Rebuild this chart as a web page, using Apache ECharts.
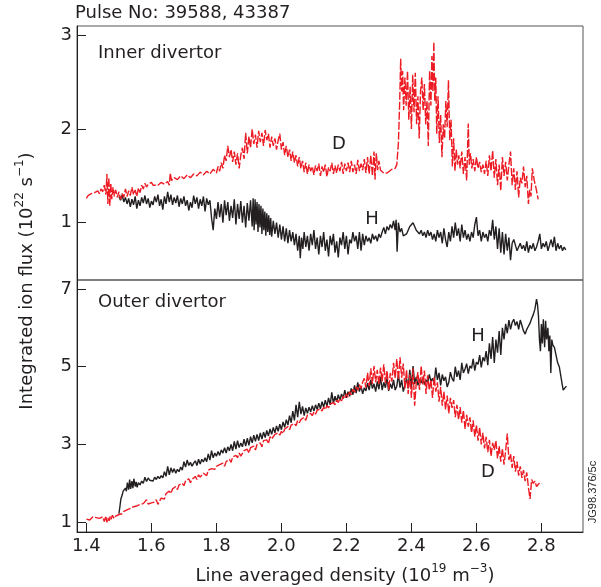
<!DOCTYPE html>
<html>
<head>
<meta charset="utf-8">
<script src="https://cdn.jsdelivr.net/npm/echarts@6/dist/echarts.min.js"></script>
<style>
html,body{margin:0;padding:0;background:#fff;}
#chart{width:601px;height:587px;}
</style>
</head>
<body>
<div id="chart"></div>
<script>
// ---- data (x = line averaged density, y = integrated ion flux) ----
var xTicks = [1.4, 1.6, 1.8, 2.0, 2.2, 2.4, 2.6, 2.8];
var yTicksInner = [1, 2, 3];
var yTicksOuter = [1, 3, 5, 7];

var innerD = [[1.400,1.26],[1.405,1.29],[1.410,1.27],[1.415,1.31],[1.420,1.29],[1.425,1.32],[1.430,1.30],[1.435,1.34],[1.440,1.31],[1.445,1.36],[1.450,1.33],[1.455,1.40],[1.460,1.30],[1.463,1.52],[1.466,1.20],[1.469,1.48],[1.472,1.18],[1.475,1.42],[1.478,1.25],[1.482,1.38],[1.486,1.28],[1.490,1.35],[1.495,1.27],[1.500,1.33],[1.505,1.25],[1.510,1.31],[1.515,1.27],[1.520,1.36],[1.525,1.28],[1.530,1.34],[1.535,1.29],[1.540,1.38],[1.545,1.30],[1.550,1.35],[1.555,1.28],[1.560,1.37],[1.565,1.32],[1.570,1.40],[1.575,1.36],[1.580,1.42],[1.585,1.38],[1.590,1.41],[1.595,1.39],[1.600,1.43],[1.605,1.40],[1.610,1.42],[1.620,1.40],[1.630,1.43],[1.640,1.41],[1.650,1.44],[1.655,1.40],[1.658,1.53],[1.662,1.45],[1.670,1.48],[1.680,1.46],[1.690,1.50],[1.700,1.47],[1.710,1.51],[1.720,1.48],[1.730,1.52],[1.740,1.50],[1.750,1.54],[1.760,1.51],[1.770,1.55],[1.780,1.52],[1.790,1.57],[1.800,1.53],[1.805,1.60],[1.810,1.55],[1.815,1.64],[1.820,1.58],[1.825,1.72],[1.830,1.66],[1.835,1.82],[1.840,1.70],[1.845,1.78],[1.850,1.65],[1.855,1.76],[1.860,1.62],[1.865,1.74],[1.870,1.58],[1.875,1.72],[1.880,1.80],[1.885,1.68],[1.890,1.96],[1.895,1.74],[1.900,1.92],[1.905,1.80],[1.910,2.00],[1.915,1.84],[1.920,1.94],[1.925,1.80],[1.930,1.98],[1.935,1.86],[1.940,1.96],[1.945,1.82],[1.950,1.99],[1.955,1.88],[1.960,1.95],[1.965,1.80],[1.970,1.92],[1.975,1.82],[1.980,1.90],[1.985,1.78],[1.990,1.88],[1.995,1.95],[2.000,1.78],[2.005,1.86],[2.010,1.72],[2.015,1.82],[2.020,1.70],[2.025,1.78],[2.030,1.66],[2.035,1.76],[2.040,1.64],[2.045,1.72],[2.050,1.60],[2.055,1.70],[2.060,1.58],[2.065,1.66],[2.070,1.54],[2.075,1.64],[2.080,1.52],[2.085,1.62],[2.090,1.55],[2.095,1.60],[2.100,1.51],[2.105,1.61],[2.110,1.55],[2.115,1.63],[2.120,1.50],[2.125,1.60],[2.130,1.54],[2.135,1.62],[2.140,1.49],[2.145,1.59],[2.150,1.55],[2.155,1.64],[2.160,1.52],[2.165,1.61],[2.170,1.53],[2.175,1.62],[2.180,1.55],[2.185,1.65],[2.190,1.52],[2.195,1.63],[2.200,1.55],[2.205,1.64],[2.210,1.54],[2.215,1.66],[2.220,1.54],[2.225,1.62],[2.230,1.52],[2.235,1.67],[2.240,1.55],[2.245,1.63],[2.250,1.56],[2.255,1.68],[2.260,1.53],[2.265,1.70],[2.270,1.52],[2.275,1.72],[2.280,1.50],[2.285,1.76],[2.288,1.46],[2.292,1.74],[2.296,1.56],[2.300,1.66],[2.305,1.56],[2.310,1.54],[2.315,1.53],[2.320,1.52],[2.325,1.53],[2.330,1.55],[2.340,1.57],[2.350,1.58],[2.355,1.62],[2.360,1.85],[2.364,2.30],[2.367,2.75],[2.370,2.40],[2.373,2.62],[2.376,2.20],[2.380,2.55],[2.384,2.25],[2.388,2.62],[2.392,2.10],[2.396,2.45],[2.400,2.00],[2.404,2.58],[2.408,2.18],[2.412,2.60],[2.416,2.05],[2.420,2.35],[2.424,1.90],[2.428,2.40],[2.432,2.55],[2.436,2.20],[2.440,2.48],[2.444,2.05],[2.448,2.30],[2.452,1.82],[2.456,2.62],[2.460,2.25],[2.463,2.78],[2.466,2.40],[2.469,2.93],[2.472,2.30],[2.475,2.55],[2.478,1.95],[2.482,2.35],[2.486,1.85],[2.490,2.15],[2.494,1.70],[2.498,2.05],[2.502,1.90],[2.506,2.30],[2.510,2.02],[2.514,2.52],[2.518,1.88],[2.522,2.10],[2.526,1.60],[2.530,1.90],[2.534,1.55],[2.538,1.78],[2.542,1.62],[2.546,1.72],[2.550,1.58],[2.555,1.76],[2.560,1.52],[2.565,1.70],[2.570,1.45],[2.575,2.06],[2.578,1.62],[2.582,1.74],[2.586,1.58],[2.590,1.68],[2.595,1.55],[2.600,1.70],[2.605,1.58],[2.610,1.65],[2.615,1.54],[2.620,1.62],[2.625,1.52],[2.630,1.66],[2.635,1.50],[2.640,1.72],[2.645,1.55],[2.650,1.77],[2.655,1.48],[2.660,1.68],[2.665,1.40],[2.670,1.62],[2.675,1.34],[2.680,1.70],[2.685,1.50],[2.690,1.65],[2.695,1.45],[2.700,1.62],[2.705,1.76],[2.710,1.40],[2.715,1.58],[2.720,1.35],[2.725,1.55],[2.730,1.27],[2.735,1.48],[2.740,1.42],[2.745,1.60],[2.750,1.38],[2.755,1.50],[2.760,1.20],[2.764,1.35],[2.768,1.28],[2.772,1.58],[2.778,1.45],[2.784,1.36],[2.790,1.25]];

var innerH = [[1.500,1.28],[1.505,1.24],[1.510,1.30],[1.515,1.22],[1.520,1.27],[1.525,1.20],[1.530,1.26],[1.535,1.17],[1.540,1.25],[1.545,1.19],[1.550,1.28],[1.555,1.15],[1.560,1.24],[1.565,1.18],[1.570,1.27],[1.575,1.21],[1.580,1.29],[1.585,1.20],[1.590,1.26],[1.595,1.16],[1.600,1.23],[1.605,1.19],[1.610,1.28],[1.615,1.22],[1.620,1.30],[1.625,1.18],[1.630,1.25],[1.635,1.14],[1.640,1.28],[1.645,1.20],[1.650,1.33],[1.655,1.22],[1.660,1.30],[1.665,1.19],[1.670,1.27],[1.675,1.21],[1.680,1.29],[1.685,1.17],[1.690,1.26],[1.695,1.20],[1.700,1.28],[1.705,1.18],[1.710,1.24],[1.715,1.13],[1.720,1.22],[1.725,1.16],[1.730,1.29],[1.735,1.20],[1.740,1.27],[1.745,1.15],[1.750,1.25],[1.755,1.18],[1.760,1.28],[1.765,1.12],[1.770,1.26],[1.775,1.19],[1.780,1.24],[1.785,1.05],[1.790,0.92],[1.795,1.15],[1.800,1.04],[1.805,1.22],[1.810,1.06],[1.815,1.20],[1.820,1.00],[1.825,1.24],[1.830,1.08],[1.835,1.22],[1.840,1.02],[1.845,1.18],[1.850,1.05],[1.855,1.25],[1.860,0.98],[1.865,1.20],[1.870,1.04],[1.875,1.23],[1.880,1.00],[1.885,1.18],[1.890,0.95],[1.895,1.21],[1.900,1.02],[1.905,1.24],[1.910,0.96],[1.913,1.26],[1.916,0.92],[1.919,1.25],[1.922,0.98],[1.925,1.22],[1.928,0.90],[1.931,1.20],[1.934,0.95],[1.937,1.18],[1.940,0.88],[1.943,1.15],[1.946,0.92],[1.949,1.12],[1.952,0.86],[1.955,1.10],[1.958,0.90],[1.961,1.08],[1.964,0.87],[1.967,1.05],[1.970,0.85],[1.975,1.02],[1.980,0.88],[1.985,1.00],[1.990,0.84],[1.995,0.98],[2.000,0.82],[2.005,0.96],[2.010,0.80],[2.015,0.94],[2.020,0.78],[2.025,0.92],[2.030,0.80],[2.035,0.90],[2.040,0.76],[2.045,0.88],[2.050,0.70],[2.055,0.86],[2.058,0.62],[2.062,0.84],[2.066,0.72],[2.070,0.90],[2.075,0.74],[2.080,0.86],[2.085,0.70],[2.090,0.88],[2.095,0.76],[2.100,0.92],[2.105,0.72],[2.110,0.84],[2.115,0.66],[2.120,0.86],[2.125,0.74],[2.130,0.90],[2.135,0.70],[2.140,0.82],[2.145,0.64],[2.150,0.86],[2.155,0.76],[2.160,0.88],[2.165,0.68],[2.170,0.80],[2.175,0.63],[2.180,0.84],[2.185,0.76],[2.190,0.90],[2.195,0.72],[2.200,0.86],[2.205,0.66],[2.210,0.82],[2.215,0.78],[2.220,0.90],[2.225,0.80],[2.230,0.86],[2.235,0.72],[2.240,0.90],[2.245,0.70],[2.250,0.88],[2.255,0.76],[2.260,0.86],[2.265,0.80],[2.270,0.84],[2.275,0.78],[2.280,0.88],[2.285,0.82],[2.290,0.86],[2.295,0.80],[2.300,0.88],[2.305,0.84],[2.310,0.90],[2.315,0.95],[2.320,0.88],[2.325,0.96],[2.330,0.92],[2.335,0.98],[2.340,0.94],[2.345,1.02],[2.350,0.92],[2.353,1.03],[2.356,0.69],[2.360,1.00],[2.365,0.90],[2.370,0.94],[2.375,0.86],[2.380,0.84],[2.385,0.88],[2.390,0.92],[2.395,0.96],[2.400,0.98],[2.405,1.00],[2.410,0.96],[2.415,0.92],[2.420,0.94],[2.425,0.88],[2.430,0.92],[2.435,0.86],[2.440,0.90],[2.445,0.84],[2.450,0.92],[2.455,0.86],[2.460,0.90],[2.465,0.82],[2.470,0.88],[2.475,0.80],[2.480,0.92],[2.485,0.84],[2.490,0.90],[2.495,0.78],[2.500,0.94],[2.505,0.82],[2.510,0.74],[2.515,0.90],[2.520,0.80],[2.525,0.96],[2.530,0.84],[2.535,1.00],[2.540,0.86],[2.545,0.94],[2.550,0.80],[2.555,0.98],[2.560,0.84],[2.565,0.92],[2.570,0.82],[2.575,0.88],[2.580,0.80],[2.585,0.90],[2.590,0.84],[2.595,0.98],[2.600,1.06],[2.605,0.86],[2.610,0.92],[2.615,0.80],[2.620,0.90],[2.625,0.84],[2.630,0.88],[2.635,0.80],[2.640,0.92],[2.645,0.86],[2.650,1.03],[2.655,0.82],[2.660,0.96],[2.665,0.72],[2.670,0.94],[2.675,0.68],[2.680,0.90],[2.685,0.66],[2.690,0.88],[2.695,0.70],[2.700,0.84],[2.705,0.60],[2.710,0.78],[2.715,0.82],[2.720,0.76],[2.725,0.70],[2.730,0.72],[2.735,0.78],[2.740,0.72],[2.745,0.76],[2.750,0.70],[2.755,0.80],[2.760,0.68],[2.765,0.76],[2.770,0.72],[2.775,0.78],[2.780,0.70],[2.785,0.74],[2.790,0.80],[2.795,0.88],[2.800,0.72],[2.805,0.78],[2.810,0.74],[2.815,0.80],[2.820,0.70],[2.825,0.76],[2.830,0.82],[2.835,0.74],[2.840,0.85],[2.845,0.70],[2.850,0.78],[2.855,0.72],[2.860,0.76],[2.865,0.70],[2.870,0.74],[2.875,0.71]];

var outerD = [[1.400,1.08],[1.405,1.12],[1.410,1.06],[1.415,1.10],[1.420,1.14],[1.425,1.09],[1.430,1.12],[1.435,1.16],[1.440,1.10],[1.445,1.05],[1.450,1.14],[1.455,1.02],[1.460,1.16],[1.463,1.00],[1.466,1.12],[1.470,1.04],[1.473,1.15],[1.476,1.08],[1.480,1.18],[1.485,1.10],[1.490,1.16],[1.495,1.12],[1.500,1.20],[1.505,1.24],[1.510,1.22],[1.515,1.28],[1.520,1.26],[1.525,1.32],[1.530,1.30],[1.535,1.36],[1.540,1.33],[1.545,1.40],[1.550,1.36],[1.555,1.42],[1.560,1.40],[1.565,1.46],[1.570,1.42],[1.575,1.48],[1.580,1.45],[1.585,1.58],[1.590,1.47],[1.595,1.52],[1.600,1.50],[1.605,1.55],[1.610,1.52],[1.615,1.58],[1.620,1.46],[1.625,1.50],[1.630,1.62],[1.635,1.66],[1.640,1.60],[1.645,1.74],[1.650,1.72],[1.655,1.80],[1.660,1.74],[1.665,1.86],[1.670,1.88],[1.675,1.92],[1.680,1.84],[1.685,1.96],[1.690,1.98],[1.695,2.00],[1.700,1.94],[1.705,2.06],[1.710,2.04],[1.715,2.12],[1.720,2.02],[1.725,2.10],[1.730,2.14],[1.735,2.18],[1.740,2.10],[1.745,2.22],[1.750,2.16],[1.755,2.20],[1.760,2.26],[1.765,2.28],[1.770,2.20],[1.775,2.34],[1.780,2.30],[1.785,2.38],[1.790,2.34],[1.795,2.36],[1.800,2.44],[1.805,2.40],[1.810,2.48],[1.815,2.46],[1.820,2.52],[1.825,2.44],[1.830,2.56],[1.835,2.58],[1.840,2.62],[1.845,2.54],[1.850,2.68],[1.855,2.64],[1.860,2.72],[1.865,2.66],[1.870,2.78],[1.875,2.70],[1.880,2.74],[1.885,2.84],[1.890,2.80],[1.895,2.88],[1.900,2.78],[1.905,2.92],[1.910,2.90],[1.915,2.96],[1.920,2.86],[1.925,3.00],[1.930,2.98],[1.935,3.04],[1.940,2.94],[1.945,3.10],[1.950,3.06],[1.955,3.12],[1.960,3.02],[1.965,3.20],[1.970,3.14],[1.975,3.18],[1.980,3.26],[1.985,3.22],[1.990,3.30],[1.995,3.24],[2.000,3.34],[2.005,3.28],[2.010,3.40],[2.015,3.36],[2.020,3.46],[2.025,3.38],[2.030,3.50],[2.035,3.46],[2.040,3.54],[2.045,3.48],[2.050,3.62],[2.055,3.56],[2.060,3.64],[2.065,3.60],[2.070,3.70],[2.075,3.62],[2.080,3.76],[2.085,3.72],[2.090,3.80],[2.095,3.74],[2.100,3.84],[2.105,3.78],[2.110,3.88],[2.115,3.84],[2.120,3.92],[2.125,3.86],[2.130,3.96],[2.135,3.90],[2.140,4.00],[2.145,3.94],[2.150,4.04],[2.155,4.00],[2.160,4.08],[2.165,4.02],[2.170,4.14],[2.175,4.08],[2.180,4.18],[2.185,4.12],[2.190,4.24],[2.195,4.18],[2.200,4.30],[2.205,4.22],[2.210,4.36],[2.215,4.28],[2.220,4.42],[2.225,4.34],[2.230,4.48],[2.235,4.40],[2.240,4.54],[2.245,4.44],[2.250,4.60],[2.255,4.70],[2.260,4.46],[2.265,4.84],[2.270,4.50],[2.275,4.96],[2.280,4.56],[2.285,5.02],[2.290,4.60],[2.295,4.92],[2.300,4.54],[2.305,4.98],[2.310,4.62],[2.315,5.06],[2.320,4.58],[2.325,4.90],[2.330,4.40],[2.335,4.84],[2.340,4.62],[2.345,5.10],[2.350,4.70],[2.355,5.20],[2.360,4.66],[2.365,5.24],[2.370,4.72],[2.375,5.08],[2.380,4.44],[2.385,4.92],[2.390,4.30],[2.395,4.80],[2.400,4.20],[2.405,4.96],[2.410,4.00],[2.415,4.60],[2.420,4.86],[2.425,4.40],[2.430,5.02],[2.435,4.54],[2.440,4.90],[2.445,4.30],[2.450,4.78],[2.455,4.40],[2.460,4.66],[2.465,4.20],[2.470,4.74],[2.475,4.36],[2.480,4.60],[2.485,4.10],[2.490,4.48],[2.495,4.00],[2.500,4.36],[2.505,3.90],[2.510,4.26],[2.515,3.80],[2.520,4.20],[2.525,3.94],[2.530,4.14],[2.535,3.70],[2.540,4.02],[2.545,3.64],[2.550,3.96],[2.555,3.56],[2.560,3.88],[2.565,3.40],[2.570,3.76],[2.575,3.46],[2.580,3.70],[2.585,3.30],[2.590,3.62],[2.595,3.20],[2.600,3.50],[2.605,3.10],[2.610,3.44],[2.615,3.00],[2.620,3.30],[2.625,2.90],[2.630,3.20],[2.635,2.80],[2.640,3.12],[2.645,2.70],[2.650,3.04],[2.655,2.86],[2.660,3.10],[2.665,2.64],[2.670,2.96],[2.675,2.56],[2.680,2.90],[2.685,2.48],[2.690,2.84],[2.695,3.28],[2.700,2.60],[2.705,2.76],[2.710,2.40],[2.715,2.70],[2.720,2.30],[2.725,2.56],[2.730,2.20],[2.735,2.44],[2.740,2.14],[2.745,2.34],[2.750,2.06],[2.755,2.28],[2.760,1.90],[2.765,1.60],[2.770,2.10],[2.775,2.00],[2.780,2.06],[2.785,1.92],[2.790,1.96],[2.795,2.02],[2.800,2.00]];

var outerH = [[1.500,1.22],[1.503,1.40],[1.506,1.60],[1.510,1.70],[1.513,1.80],[1.516,1.76],[1.520,1.88],[1.523,1.80],[1.526,2.02],[1.530,1.84],[1.533,2.10],[1.536,1.86],[1.540,2.06],[1.543,1.88],[1.546,2.12],[1.550,1.92],[1.553,2.04],[1.556,1.90],[1.560,2.02],[1.565,1.96],[1.570,2.06],[1.575,2.00],[1.580,2.16],[1.585,2.05],[1.590,2.14],[1.595,2.08],[1.600,2.12],[1.605,2.06],[1.610,2.16],[1.615,2.10],[1.620,2.18],[1.625,2.12],[1.630,2.20],[1.635,2.14],[1.640,2.30],[1.645,2.18],[1.650,2.44],[1.655,2.22],[1.660,2.40],[1.665,2.28],[1.670,2.38],[1.675,2.26],[1.680,2.36],[1.685,2.30],[1.690,2.42],[1.695,2.34],[1.700,2.56],[1.705,2.42],[1.710,2.60],[1.715,2.46],[1.720,2.54],[1.725,2.44],[1.730,2.52],[1.735,2.58],[1.740,2.46],[1.745,2.62],[1.750,2.50],[1.755,2.62],[1.760,2.55],[1.765,2.66],[1.770,2.56],[1.775,2.76],[1.780,2.60],[1.785,2.84],[1.790,2.66],[1.795,2.78],[1.800,2.70],[1.805,2.82],[1.810,2.72],[1.815,2.86],[1.820,2.78],[1.825,2.92],[1.830,2.78],[1.835,2.94],[1.840,2.84],[1.845,3.00],[1.850,2.84],[1.855,3.08],[1.860,2.88],[1.865,3.10],[1.870,2.92],[1.875,3.04],[1.880,2.94],[1.885,3.14],[1.890,2.96],[1.895,3.16],[1.900,2.98],[1.905,3.20],[1.910,3.04],[1.915,3.24],[1.920,3.08],[1.925,3.26],[1.930,3.10],[1.935,3.30],[1.940,3.14],[1.945,3.32],[1.950,3.18],[1.955,3.36],[1.960,3.22],[1.965,3.40],[1.970,3.26],[1.975,3.44],[1.980,3.30],[1.985,3.48],[1.990,3.34],[1.995,3.52],[2.000,3.38],[2.005,3.58],[2.010,3.44],[2.015,3.64],[2.020,3.50],[2.025,3.74],[2.030,3.56],[2.035,3.86],[2.040,3.62],[2.045,4.02],[2.050,3.70],[2.055,4.10],[2.060,3.78],[2.065,3.98],[2.070,3.74],[2.075,3.94],[2.080,3.80],[2.085,3.96],[2.090,3.84],[2.095,4.00],[2.100,3.86],[2.105,4.02],[2.110,3.90],[2.115,4.06],[2.120,3.92],[2.125,4.10],[2.130,3.96],[2.135,4.14],[2.140,3.98],[2.145,4.20],[2.150,4.02],[2.155,4.34],[2.160,4.06],[2.165,4.24],[2.170,4.10],[2.175,4.28],[2.180,4.14],[2.185,4.30],[2.190,4.18],[2.195,4.40],[2.200,4.20],[2.205,4.36],[2.210,4.24],[2.215,4.44],[2.220,4.28],[2.225,4.52],[2.230,4.32],[2.235,4.60],[2.240,4.36],[2.245,4.50],[2.250,4.30],[2.255,4.46],[2.260,4.38],[2.265,4.58],[2.270,4.40],[2.275,4.66],[2.280,4.44],[2.285,4.56],[2.290,4.36],[2.295,4.62],[2.300,4.42],[2.305,4.74],[2.310,4.40],[2.315,4.60],[2.320,4.46],[2.325,4.70],[2.330,4.38],[2.335,4.56],[2.340,4.44],[2.345,4.66],[2.350,4.40],[2.355,4.50],[2.360,4.80],[2.365,4.46],[2.370,4.66],[2.375,4.36],[2.380,4.52],[2.385,4.70],[2.390,4.44],[2.395,4.92],[2.400,4.48],[2.405,5.02],[2.410,4.56],[2.415,4.74],[2.420,4.52],[2.425,4.68],[2.430,4.58],[2.435,4.72],[2.440,4.54],[2.445,4.66],[2.450,4.60],[2.455,4.80],[2.460,4.62],[2.465,4.70],[2.470,4.56],[2.475,4.98],[2.480,4.66],[2.485,4.84],[2.490,4.52],[2.495,4.80],[2.500,4.64],[2.505,4.74],[2.510,4.48],[2.515,4.60],[2.520,4.86],[2.525,4.70],[2.530,4.62],[2.535,5.00],[2.540,4.74],[2.545,4.90],[2.550,4.66],[2.555,5.10],[2.560,4.84],[2.565,4.94],[2.570,5.08],[2.575,4.82],[2.580,5.02],[2.585,4.96],[2.590,5.20],[2.595,4.90],[2.600,5.12],[2.605,5.06],[2.610,5.30],[2.615,4.98],[2.620,5.24],[2.625,5.14],[2.630,5.40],[2.635,5.04],[2.640,5.60],[2.645,5.20],[2.650,5.76],[2.655,5.10],[2.660,5.70],[2.665,5.36],[2.670,5.92],[2.675,5.30],[2.680,6.00],[2.685,5.70],[2.690,6.10],[2.695,5.86],[2.700,6.20],[2.705,5.96],[2.710,6.14],[2.715,6.22],[2.720,6.06],[2.725,6.16],[2.730,5.96],[2.735,6.20],[2.740,6.06],[2.745,5.92],[2.750,5.84],[2.755,5.96],[2.760,6.04],[2.765,6.12],[2.770,6.24],[2.775,6.34],[2.780,6.48],[2.785,6.74],[2.788,6.60],[2.791,6.30],[2.794,5.70],[2.797,5.40],[2.800,6.10],[2.803,5.60],[2.806,6.22],[2.810,5.50],[2.813,6.18],[2.816,5.70],[2.820,6.00],[2.823,5.40],[2.826,5.80],[2.829,4.84],[2.832,5.70],[2.835,5.56],[2.840,5.50],[2.845,5.30],[2.850,5.10],[2.855,5.00],[2.860,4.96],[2.863,4.60],[2.867,4.40],[2.872,4.44],[2.877,4.50]];

// ---- chart ----
var FONT = '"DejaVu Sans", "Liberation Sans", Arial, sans-serif';
var SMALLFONT = '"Liberation Sans", Arial, sans-serif';
var INK = '#231f20';
var RED = '#ed1c24';
var FS = 18;

var chart = echarts.init(document.getElementById('chart'), null, {renderer: 'canvas'});

function xAxisCfg(grid, showLabels) {
  return {
    type: 'value', gridIndex: grid, min: 1.371, max: 2.928,
    axisLine: {show: showLabels, onZero: false, lineStyle: {color: INK, width: 1}},
    axisTick: {show: showLabels, inside: true, length: 9, customValues: xTicks, lineStyle: {color: INK}},
    axisLabel: {show: showLabels, customValues: xTicks, margin: 5, fontSize: FS, fontFamily: FONT, color: INK,
                formatter: function (v) { return v.toFixed(1); }},
    splitLine: {show: false}
  };
}
function yAxisCfg(grid, min, max, ticks) {
  return {
    type: 'value', gridIndex: grid, min: min, max: max,
    axisLine: {show: true, onZero: false, lineStyle: {color: INK, width: 1}},
    axisTick: {show: true, inside: true, length: 9, customValues: ticks, lineStyle: {color: INK}},
    axisLabel: {show: true, customValues: ticks, margin: 5, fontSize: FS, fontFamily: FONT, color: INK},
    splitLine: {show: false}
  };
}
function lineSeries(xi, yi, data, color, dashed) {
  return {
    type: 'line', xAxisIndex: xi, yAxisIndex: yi, data: data,
    symbol: 'none', showSymbol: false, animation: false, sampling: null,
    lineStyle: {color: color, width: 1.4, type: dashed ? [8, 2] : 'solid'},
    emphasis: {disabled: true}
  };
}
function txt(x, y, text, font, extra) {
  var o = {
    type: 'text', x: x, y: y, z: 100,
    style: {text: text, fill: INK, font: font,
            textAlign: 'center', textVerticalAlign: 'middle', align: 'center', verticalAlign: 'middle'}
  };
  if (extra) { for (var k in extra) o[k] = extra[k]; }
  return o;
}
function ltxt(x, y, text) {
  return {
    type: 'text', x: x, y: y, z: 100,
    style: {text: text, fill: INK, font: FS + 'px ' + FONT,
            textAlign: 'left', textVerticalAlign: 'middle', align: 'left', verticalAlign: 'middle'}
  };
}
var richAxisName = {
  n: {fontSize: FS, fontFamily: FONT, color: INK, lineHeight: 22, verticalAlign: 'bottom'},
  s: {fontSize: 12, fontFamily: FONT, color: INK, lineHeight: 22, verticalAlign: 'top'}
};
var BIG = FS + 'px ' + FONT;

var option = {
  animation: false,
  backgroundColor: '#fff',
  grid: [
    {left: 77, top: 26, width: 506, height: 254, show: true, borderColor: '#555', borderWidth: 1, backgroundColor: 'transparent'},
    {left: 77, top: 280, width: 506, height: 252, show: true, borderColor: '#555', borderWidth: 1, backgroundColor: 'transparent'}
  ],
  xAxis: [xAxisCfg(0, false), xAxisCfg(1, true)],
  yAxis: [yAxisCfg(0, 0.388, 3.1, yTicksInner), yAxisCfg(1, 0.75, 7.23, yTicksOuter)],
  series: [
    lineSeries(0, 0, innerH, INK, false),
    lineSeries(0, 0, innerD, RED, true),
    lineSeries(1, 1, outerH, INK, false),
    lineSeries(1, 1, outerD, RED, true)
  ],
  graphic: [
    ltxt(75, 13, 'Pulse No: 39588, 43387'),
    ltxt(98, 53, 'Inner divertor'),
    ltxt(98, 302, 'Outer divertor'),
    txt(339, 144, 'D', BIG),
    txt(372, 219, 'H', BIG),
    txt(478, 336, 'H', BIG),
    txt(488, 472, 'D', BIG),
    {
      type: 'text', x: 25, y: 281, rotation: Math.PI / 2, z: 100,
      style: {
        text: '{n|Integrated ion flux (10}{s|22}{n| s}{s|\u22121}{n|)}',
        fill: INK, textAlign: 'center', textVerticalAlign: 'middle', align: 'center', verticalAlign: 'middle',
        rich: richAxisName
      }
    },
    {
      type: 'text', x: 345, y: 574, z: 100,
      style: {
        text: '{n|Line averaged density (10}{s|19}{n| m}{s|\u22123}{n|)}',
        fill: INK, textAlign: 'center', textVerticalAlign: 'middle', align: 'center', verticalAlign: 'middle',
        rich: richAxisName
      }
    },
    txt(593, 492, 'JG98.376/5c', '11px ' + SMALLFONT, {rotation: Math.PI / 2})
  ]
};
chart.setOption(option);
</script>
</body>
</html>
